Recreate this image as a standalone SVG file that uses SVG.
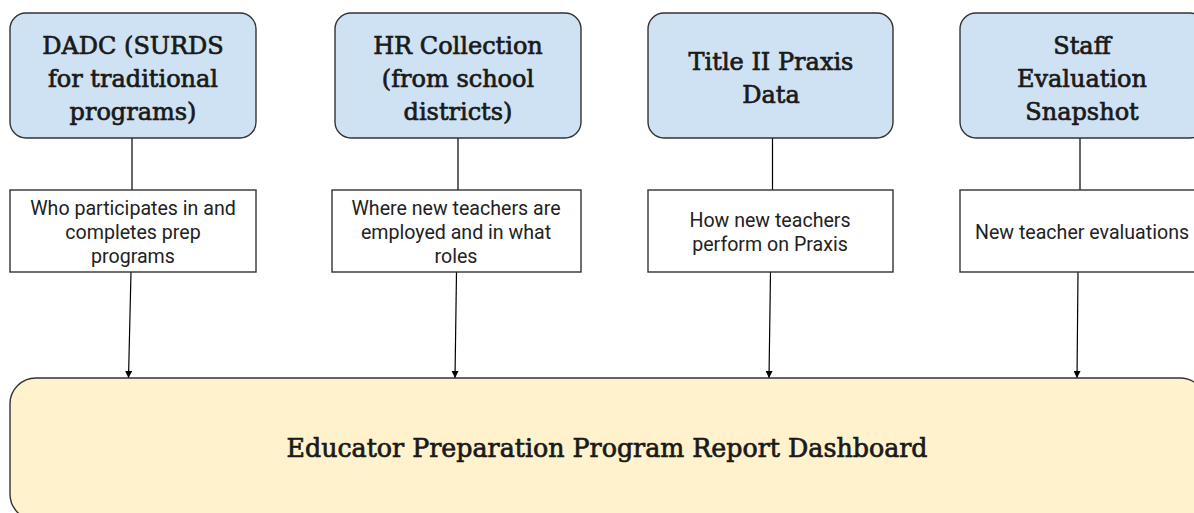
<svg xmlns="http://www.w3.org/2000/svg" width="1194" height="513" viewBox="0 0 1194 513">
  <defs>
    <marker id="arrow" viewBox="0 0 10 10" refX="10" refY="5" markerWidth="8" markerHeight="7" orient="auto" markerUnits="userSpaceOnUse">
      <path d="M0,0 L10,5 L0,10 z" fill="#000"/>
    </marker>
    <style>
      .src { fill: #cfe2f3; stroke: #333; stroke-width: 1.4; }
      .note { fill: #fff; stroke: #333; stroke-width: 1.4; }
      .dash { fill: #fff2cc; stroke: #333; stroke-width: 1.4; }
      .title { font-family: "DejaVu Serif", "Liberation Serif", serif; font-size: 24px; fill: #1a1a1a; stroke: #1a1a1a; stroke-width: 0.7; text-anchor: middle; }
      .big { font-family: "DejaVu Serif", "Liberation Serif", serif; font-size: 25.3px; fill: #1a1a1a; stroke: #1a1a1a; stroke-width: 0.7; text-anchor: middle; }
      .body { font-family: Roboto, "Liberation Sans", sans-serif; font-size: 19.6px; fill: #222; text-anchor: middle; }
      .wire { stroke: #000; stroke-width: 1.2; fill: none; }
    </style>
  </defs>
  <rect width="1194" height="513" fill="#fff"/>

  <g id="connectors">
    <line class="wire" x1="132" y1="138" x2="132" y2="190"/>
    <line class="wire" x1="131" y1="272" x2="128.5" y2="378" marker-end="url(#arrow)"/>
    <line class="wire" x1="458" y1="138" x2="458" y2="190"/>
    <line class="wire" x1="456.5" y1="272" x2="455" y2="378" marker-end="url(#arrow)"/>
    <line class="wire" x1="772.5" y1="138" x2="772.5" y2="190"/>
    <line class="wire" x1="770.5" y1="272" x2="769" y2="378" marker-end="url(#arrow)"/>
    <line class="wire" x1="1080" y1="138" x2="1080" y2="190"/>
    <line class="wire" x1="1078" y1="272" x2="1077" y2="378" marker-end="url(#arrow)"/>
  </g>

  <g id="dadc">
    <rect class="src" x="10" y="13" width="246" height="125" rx="16"/>
    <text class="title" x="133" y="54">DADC (SURDS</text>
    <text class="title" x="133" y="87">for traditional</text>
    <text class="title" x="133" y="120">programs)</text>
  </g>
  <g id="hr-collection">
    <rect class="src" x="335" y="13" width="246" height="125" rx="16"/>
    <text class="title" x="458" y="54">HR Collection</text>
    <text class="title" x="458" y="87">(from school</text>
    <text class="title" x="458" y="120">districts)</text>
  </g>
  <g id="title-ii">
    <rect class="src" x="648" y="13" width="245" height="125" rx="16"/>
    <text class="title" x="771" y="70">Title II Praxis</text>
    <text class="title" x="771" y="103">Data</text>
  </g>
  <g id="staff-eval">
    <rect class="src" x="960" y="13" width="246" height="125" rx="16"/>
    <text class="title" x="1082" y="54">Staff</text>
    <text class="title" x="1082" y="87">Evaluation</text>
    <text class="title" x="1082" y="120">Snapshot</text>
  </g>

  <g id="who-participates">
    <rect class="note" x="10" y="190" width="246" height="82"/>
    <text class="body" x="133" y="215">Who participates in and</text>
    <text class="body" x="133" y="239">completes prep</text>
    <text class="body" x="133" y="263">programs</text>
  </g>
  <g id="where-employed">
    <rect class="note" x="332" y="190" width="249" height="82"/>
    <text class="body" x="456" y="215">Where new teachers are</text>
    <text class="body" x="456" y="239">employed and in what</text>
    <text class="body" x="456" y="263">roles</text>
  </g>
  <g id="praxis-performance">
    <rect class="note" x="648" y="190" width="245" height="82"/>
    <text class="body" x="770" y="227">How new teachers</text>
    <text class="body" x="770" y="251">perform on Praxis</text>
  </g>
  <g id="evaluations">
    <rect class="note" x="960" y="190" width="250" height="82"/>
    <text class="body" x="1082" y="239">New teacher evaluations</text>
  </g>

  <g id="dashboard">
    <rect class="dash" x="10" y="378" width="1196" height="142" rx="26"/>
    <text class="big" x="607" y="457">Educator Preparation Program Report Dashboard</text>
  </g>
</svg>
